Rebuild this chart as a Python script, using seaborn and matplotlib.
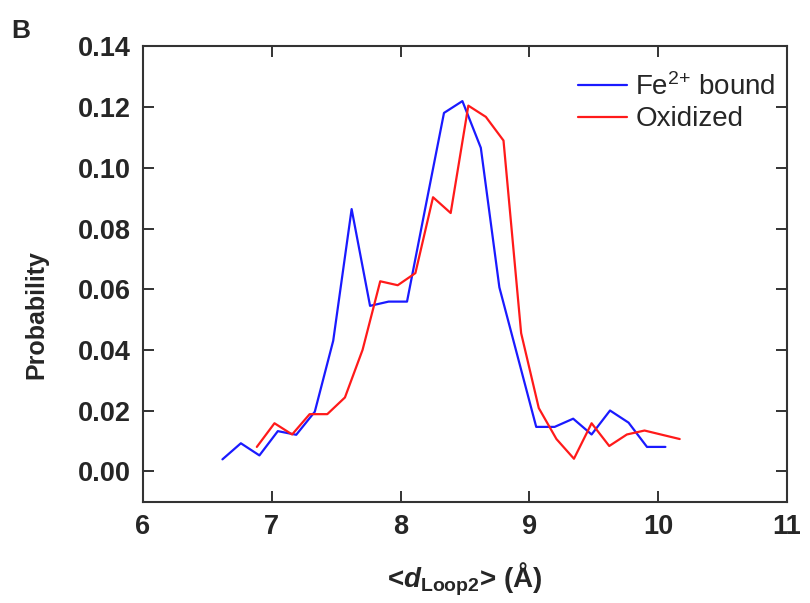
import matplotlib
matplotlib.use("Agg")
import matplotlib.pyplot as plt
import numpy as np
import pandas as pd
import seaborn as sns

# Distance distribution of loop 2 for the two states
fe_bound_x = [6.617, 6.760, 6.904, 7.047, 7.190, 7.334, 7.477, 7.620, 7.763,
              7.907, 8.050, 8.193, 8.337, 8.480, 8.623, 8.767, 8.910, 9.053,
              9.196, 9.340, 9.483, 9.626, 9.770, 9.913, 10.056]
fe_bound_p = [0.0039, 0.0092, 0.0052, 0.0132, 0.0120, 0.0196, 0.0430, 0.0864,
              0.0545, 0.0559, 0.0559, 0.0870, 0.1181, 0.1220, 0.1066, 0.0606,
              0.0376, 0.0146, 0.0146, 0.0173, 0.0121, 0.0200, 0.0160, 0.0080,
              0.0080]

oxidized_x = [6.884, 7.021, 7.158, 7.294, 7.431, 7.568, 7.705, 7.842, 7.978,
              8.115, 8.252, 8.389, 8.526, 8.662, 8.799, 8.936, 9.073, 9.210,
              9.346, 9.483, 9.620, 9.757, 9.894, 10.030, 10.167]
oxidized_p = [0.0080, 0.0158, 0.0121, 0.0188, 0.0188, 0.0243, 0.0400, 0.0626,
              0.0613, 0.0653, 0.0903, 0.0851, 0.1205, 0.1168, 0.1090, 0.0455,
              0.0208, 0.0106, 0.0041, 0.0158, 0.0083, 0.0121, 0.0134, 0.0120,
              0.0106]

series_names = ["Fe$^{2{+}}$ bound", "Oxidized"]
series_colors = ["#1a1aff", "#ff1a1a"]

x_ticks = [6, 7, 8, 9, 10, 11]
y_ticks = [0.00, 0.02, 0.04, 0.06, 0.08, 0.10, 0.12, 0.14]

df = pd.concat([
    pd.DataFrame({"d": fe_bound_x, "p": fe_bound_p, "state": series_names[0]}),
    pd.DataFrame({"d": oxidized_x, "p": oxidized_p, "state": series_names[1]}),
], ignore_index=True)

sns.set_theme(style="ticks")
plt.rcParams["font.family"] = ["Liberation Sans", "DejaVu Sans"]
plt.rcParams["mathtext.fontset"] = "custom"
plt.rcParams["mathtext.rm"] = "Liberation Sans"
plt.rcParams["mathtext.it"] = "Liberation Sans:italic:bold"
plt.rcParams["mathtext.bf"] = "Liberation Sans:bold"

fig = plt.figure(figsize=(8.10, 6.03), dpi=100)
ax = fig.add_axes([0.1765, 0.1683, 0.9716 - 0.1765, 0.9229 - 0.1683])

sns.lineplot(data=df, x="d", y="p", hue="state", hue_order=series_names,
             palette=dict(zip(series_names, series_colors)),
             estimator=None, sort=False, linewidth=1.6, ax=ax)

ax.set_xlim(6, 11)
ax.set_ylim(-0.01, 0.14)
ax.set_xticks(x_ticks)
ax.set_yticks(y_ticks)
ax.set_xticklabels([str(t) for t in x_ticks])
ax.set_yticklabels([f"{t:.2f}" for t in y_ticks])

for side in ["left", "right", "top", "bottom"]:
    ax.spines[side].set_visible(True)
    ax.spines[side].set_color("#333333")
    ax.spines[side].set_linewidth(1.5)

ax.tick_params(axis="both", which="major", direction="in", length=8,
               width=1.4, color="#333333", top=True, right=True,
               labelsize=19.5, pad=9)
for lbl in ax.get_xticklabels() + ax.get_yticklabels():
    lbl.set_fontweight("bold")

ax.set_ylabel("Probability", fontsize=18, fontweight="bold")
ax.yaxis.set_label_coords(-0.147, 0.41)
ax.set_xlabel(r"<$\mathit{d}_{\mathbf{Loop2}}$> (Å)", fontsize=20,
              fontweight="bold", labelpad=15)

leg = ax.legend(frameon=False, loc="upper right", fontsize=20,
                handlelength=1.75, handletextpad=0.3, labelspacing=0.2,
                borderaxespad=0.0, bbox_to_anchor=(1.0, 0.966))
for line in leg.get_lines():
    line.set_linewidth(1.6)

fig.text(0.014, 0.937, "B", fontsize=19, fontweight="bold")

fig.savefig("out.png", dpi=100)
